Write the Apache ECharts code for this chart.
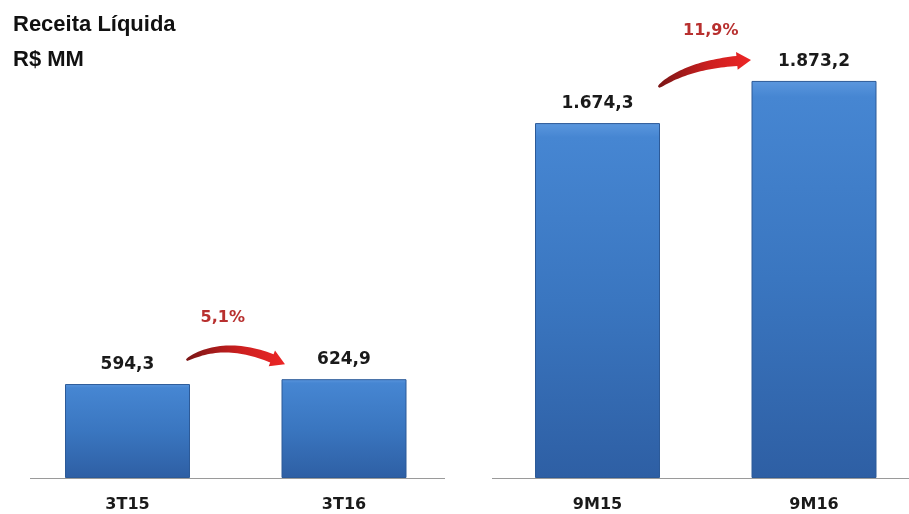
<!DOCTYPE html>
<html>
<head>
<meta charset="utf-8">
<script src="https://cdn.jsdelivr.net/npm/echarts@6/dist/echarts.min.js"></script>
<style>
html,body{margin:0;padding:0;background:#fff;}
#chart{width:909px;height:514px;}
</style>
</head>
<body>
<div id="chart"></div>
<script>
var titleLines = ['Receita Líquida', 'R$ MM'];
var quarterCats = ['3T15', '3T16'];
var quarterVals = [594.3, 624.9];
var ytdCats = ['9M15', '9M16'];
var ytdVals = [1674.3, 1873.2];

function fmt(v, dec) {
  var parts = v.toFixed(dec).split('.');
  var ip = parts[0].replace(/\B(?=(\d{3})+(?!\d))/g, '.');
  return ip + (parts[1] ? ',' + parts[1] : '');
}
function growth(a, b) {
  var g = (b / a - 1) * 100;
  return g.toFixed(1).replace('.', ',') + '%';
}

var barColor = {
  type: 'linear', x: 0, y: 0, x2: 0, y2: 1,
  colorStops: [
    {offset: 0, color: '#5b97de'},
    {offset: 0.04, color: '#4686d2'},
    {offset: 0.5, color: '#3a76c0'},
    {offset: 1, color: '#2e5fa4'}
  ]
};

var labelStyle = {
  show: true, position: 'top', distance: 11,
  fontFamily: 'DejaVu Sans', fontWeight: 'bold', fontSize: 17, color: '#1a1a1a'
};
var catLabel = {margin: 19, fontFamily: 'DejaVu Sans', fontWeight: 'bold', fontSize: 16, color: '#1a1a1a'};

var chart = echarts.init(document.getElementById('chart'));
var option = {
  backgroundColor: '#ffffff',
  animation: false,
  title: [
    {text: titleLines[0], left: 8, top: 9, textStyle: {fontFamily: 'Liberation Sans', fontWeight: 'bold', fontSize: 22, color: '#111'}},
    {text: titleLines[1], left: 8, top: 44, textStyle: {fontFamily: 'Liberation Sans', fontWeight: 'bold', fontSize: 22, color: '#111'}}
  ],
  grid: [
    {left: 127.5, right: 565, top: 78, bottom: 36},
    {left: 597.5, right: 95, top: 78, bottom: 36}
  ],
  xAxis: [
    {type: 'category', gridIndex: 0, data: quarterCats, boundaryGap: false,
      axisLine: {show: false}, axisTick: {show: false}, axisLabel: catLabel},
    {type: 'category', gridIndex: 1, data: ytdCats, boundaryGap: false,
      axisLine: {show: false}, axisTick: {show: false}, axisLabel: catLabel}
  ],
  yAxis: [
    {type: 'value', gridIndex: 0, min: 0, max: 2530, show: false, splitLine: {show: false}},
    {type: 'value', gridIndex: 1, min: 0, max: 1887, show: false, splitLine: {show: false}}
  ],
  series: [
    {type: 'bar', xAxisIndex: 0, yAxisIndex: 0, data: quarterVals, barWidth: 125,
      itemStyle: {color: barColor, borderColor: '#2c5a98', borderWidth: 1},
      label: Object.assign({}, labelStyle, {formatter: function (p) { return fmt(p.value, 1); }})},
    {type: 'bar', xAxisIndex: 1, yAxisIndex: 1, data: ytdVals, barWidth: 125,
      itemStyle: {color: barColor, borderColor: '#2c5a98', borderWidth: 1},
      label: Object.assign({}, labelStyle, {formatter: function (p) { return fmt(p.value, 1); }})}
  ]
};
chart.setOption(option);

function arrowShape(s, c, e, w0, w1, headLen, headHalf) {
  function pt(t) {
    var u = 1 - t;
    return [u*u*s[0] + 2*u*t*c[0] + t*t*e[0], u*u*s[1] + 2*u*t*c[1] + t*t*e[1]];
  }
  function tan(t) {
    var dx = 2*(1-t)*(c[0]-s[0]) + 2*t*(e[0]-c[0]);
    var dy = 2*(1-t)*(c[1]-s[1]) + 2*t*(e[1]-c[1]);
    var l = Math.sqrt(dx*dx + dy*dy);
    return [dx/l, dy/l];
  }
  var total = 0, prev = pt(0), N = 60, lens = [0];
  for (var i = 1; i <= N; i++) { var q = pt(i/N); total += Math.hypot(q[0]-prev[0], q[1]-prev[1]); lens.push(total); prev = q; }
  var tEnd = 1;
  for (var j = N; j >= 0; j--) { if (total - lens[j] >= headLen) { tEnd = j / N; break; } }
  var left = [], right = [];
  var M = 30;
  for (var k = 0; k <= M; k++) {
    var t = tEnd * k / M;
    var p = pt(t), d = tan(t), n = [-d[1], d[0]];
    var f = k / M;
    var w = (w0 + (w1 - w0) * Math.sqrt(f)) / 2;
    left.push([p[0] + n[0]*w, p[1] + n[1]*w]);
    right.push([p[0] - n[0]*w, p[1] - n[1]*w]);
  }
  var pb = pt(tEnd), db = tan(tEnd), nb = [-db[1], db[0]];
  var pts = left.slice();
  pts.push([pb[0] + nb[0]*headHalf, pb[1] + nb[1]*headHalf]);
  pts.push(e);
  pts.push([pb[0] - nb[0]*headHalf, pb[1] - nb[1]*headHalf]);
  return pts.concat(right.reverse());
}

var a1 = chart.convertToPixel({gridIndex: 0}, [quarterCats[0], quarterVals[0]]);
var a2 = chart.convertToPixel({gridIndex: 0}, [quarterCats[1], quarterVals[1]]);
var b1 = chart.convertToPixel({gridIndex: 1}, [ytdCats[0], ytdVals[0]]);
var b2 = chart.convertToPixel({gridIndex: 1}, [ytdCats[1], ytdVals[1]]);
var base0 = chart.convertToPixel({gridIndex: 0}, [quarterCats[0], 0])[1];
var base1 = chart.convertToPixel({gridIndex: 1}, [ytdCats[0], 0])[1];

var ls = [a1[0] + 59, a1[1] - 24], le = [a2[0] - 59, a2[1] - 15];
var lc = [(ls[0] + le[0]) / 2 - 8, Math.min(ls[1], le[1]) - 24];
var rs = [b1[0] + 61, b1[1] - 36], re = [b2[0] - 63, b2[1] - 21];
var rc = [rs[0] + 30, re[1] + 3];

var arrowFill = {
  type: 'linear', x: 0, y: 0, x2: 1, y2: 0,
  colorStops: [{offset: 0, color: '#7a1616'}, {offset: 0.55, color: '#cc1f1f'}, {offset: 1, color: '#ec2626'}]
};

chart.setOption({
  graphic: [
    {type: 'line', shape: {x1: 30, y1: base0 + 0.5, x2: 445, y2: base0 + 0.5}, style: {stroke: '#9a9a9a', lineWidth: 1}, silent: true},
    {type: 'line', shape: {x1: 492, y1: base1 + 0.5, x2: 909, y2: base1 + 0.5}, style: {stroke: '#9a9a9a', lineWidth: 1}, silent: true},
    {type: 'polygon', shape: {points: arrowShape(ls, lc, le, 2, 9, 13, 8.5)}, style: {fill: arrowFill}, silent: true},
    {type: 'polygon', shape: {points: arrowShape(rs, rc, re, 2, 10, 14, 9)}, style: {fill: arrowFill}, silent: true},
    {type: 'text', x: (ls[0] + le[0]) / 2 - 13, y: a1[1] - 66,
      style: {text: growth(quarterVals[0], quarterVals[1]), fill: '#b8302f', font: 'bold 16px "DejaVu Sans"', textAlign: 'center', textVerticalAlign: 'middle'}},
    {type: 'text', x: (rs[0] + re[0]) / 2 + 6, y: b2[1] - 50,
      style: {text: growth(ytdVals[0], ytdVals[1]), fill: '#b8302f', font: 'bold 16px "DejaVu Sans"', textAlign: 'center', textVerticalAlign: 'middle'}}
  ]
});
</script>
</body>
</html>
